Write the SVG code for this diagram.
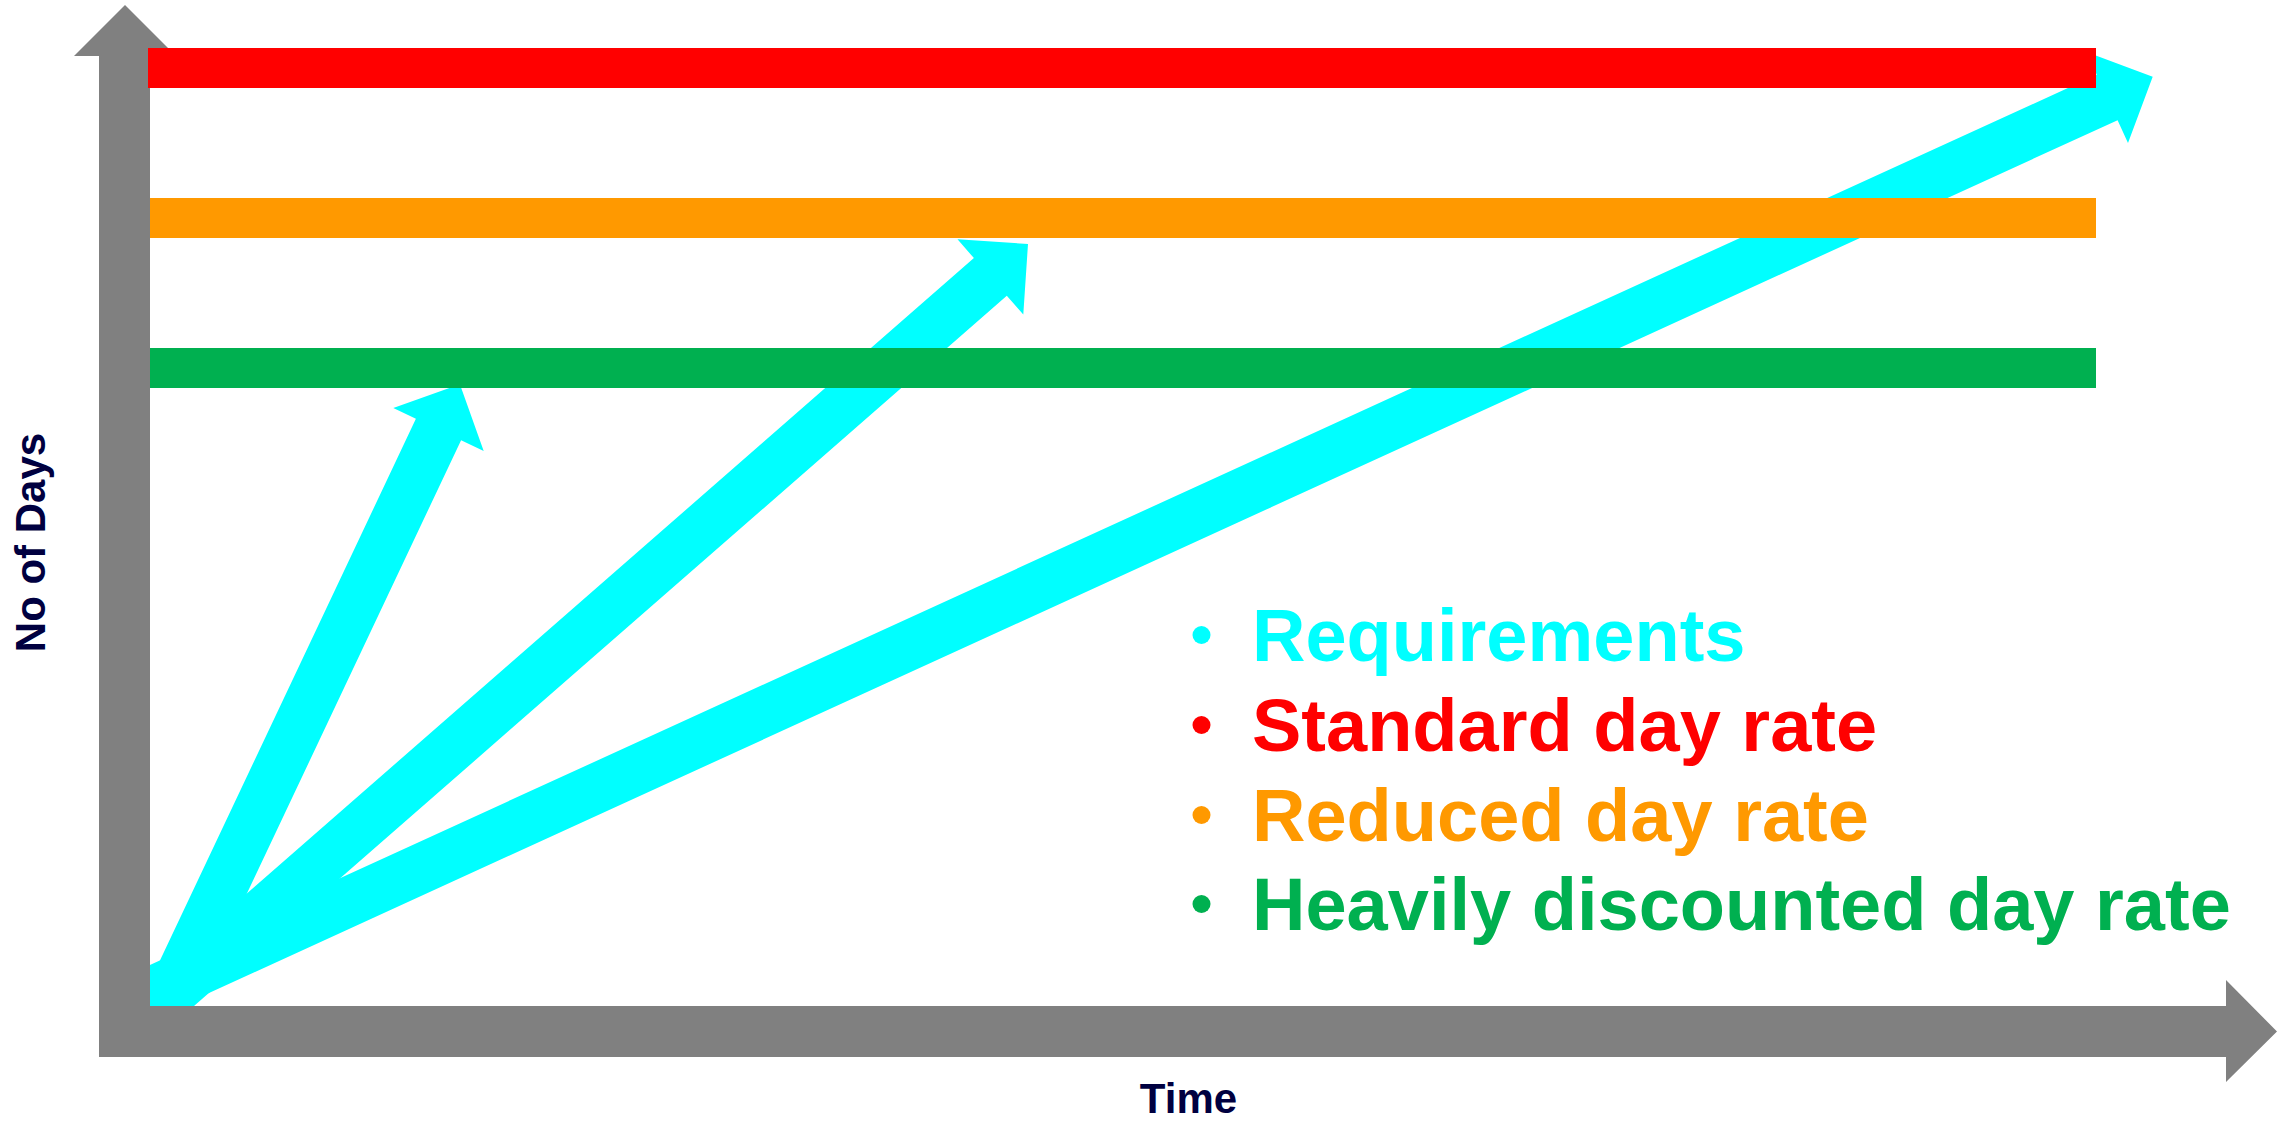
<svg xmlns="http://www.w3.org/2000/svg" width="2293" height="1121" viewBox="0 0 2293 1121">
  <style>
    .req { fill: #00FFFF; }
    .axis { fill: #808080; }
    .lbl { font-family: "Liberation Sans", Arial, sans-serif; font-weight: bold; }
    .axlbl { font-size: 42px; fill: #000040; }
    .leg { font-size: 74px; }
  </style>
  <rect width="2293" height="1121" fill="#FFFFFF"/>
  <g id="connectors">
    <polygon id="arrow-1" class="req" points="182.1,1030.7 461.1,440.2 483.7,450.9 459.9,384.3 393.3,408.1 415.9,418.8 136.9,1009.3"/>
    <polygon id="arrow-2" class="req" points="156.5,1038.8 1006.8,295.7 1023.3,314.6 1028,244 957.5,239.3 973.9,258.1 123.6,1001.2"/>
    <polygon id="arrow-3" class="req" points="154.3,1018 2117.6,120.2 2128,143 2152.7,76.7 2086.4,52 2096.8,74.8 133.5,972.6"/>
  </g>
  <g id="y-axis">
    <polygon class="axis" points="99,1057 150,1057 150,56 176,56 125,5 74,56 99,56"/>
    <text class="lbl axlbl" text-anchor="middle" transform="translate(45,542.5) rotate(-90)">No of Days</text>
  </g>
  <g id="x-axis">
    <polygon class="axis" points="99,1006 2226,1006 2226,980 2277,1031.5 2226,1082 2226,1057 99,1057"/>
    <text class="lbl axlbl" x="1188.5" y="1113" text-anchor="middle">Time</text>
  </g>
  <g id="standard-rate">
    <rect x="148" y="48" width="1948" height="40" fill="#FF0000"/>
  </g>
  <g id="reduced-rate">
    <rect x="150" y="198" width="1946" height="40" fill="#FF9900"/>
  </g>
  <g id="discounted-rate">
    <rect x="150" y="348" width="1946" height="40" fill="#00B050"/>
  </g>
  <g id="legend">
    <circle cx="1201.5" cy="635" r="9" fill="#00FFFF"/>
    <text class="lbl leg" x="1252" y="661" fill="#00FFFF">Requirements</text>
    <circle cx="1201.5" cy="725" r="9" fill="#FF0000"/>
    <text class="lbl leg" x="1252" y="751" fill="#FF0000">Standard day rate</text>
    <circle cx="1201.5" cy="815" r="9" fill="#FF9900"/>
    <text class="lbl leg" x="1252" y="841" fill="#FF9900">Reduced day rate</text>
    <circle cx="1201.5" cy="904" r="9" fill="#00B050"/>
    <text class="lbl leg" x="1252" y="930" fill="#00B050">Heavily discounted day rate</text>
  </g>
</svg>
